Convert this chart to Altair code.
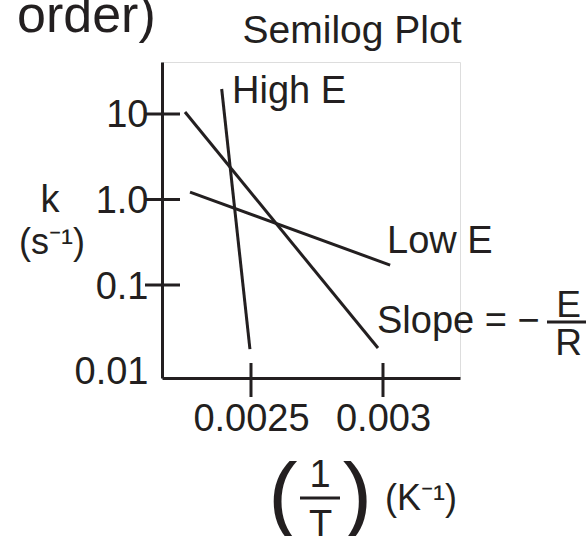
import altair as alt
import pandas as pd

# Rate constant k against reciprocal temperature for three reactions
line_names = ["High E", "Middle E", "Low E"]
inv_t_start = [0.002389, 0.00225, 0.002269]
inv_t_end = [0.002496, 0.002981, 0.003027]
k_start = [19.6, 10.55, 1.22]
k_end = [0.0178, 0.0183, 0.171]

# Axis ticks and their printed labels
y_tick_values = [10, 1, 0.1, 0.01]
y_tick_labels = ["10", "1.0", "0.1", "0.01"]
x_tick_values = [0.0025, 0.003]
x_tick_labels = ["0.0025", "0.003"]

FONT = "Liberation Sans"
INK = "#231f20"
W, H = 298, 316

lines = pd.DataFrame({
    "name": line_names,
    "x0": inv_t_start, "x1": inv_t_end,
    "k0": k_start, "k1": k_end,
})
yt = pd.DataFrame({"v": y_tick_values[:3]})
xt = pd.DataFrame({"v": x_tick_values})

x_scale = alt.Scale(domain=[0.0021629, 0.0032917], nice=False, zero=False)
y_scale = alt.Scale(type="log", domain=[0.008173, 40.55], nice=False)


def label_map(values, labels):
    pairs = ",".join(f"'{v}':'{l}'" for v, l in zip(values, labels))
    return "{" + pairs + "}[datum.value]"


x_axis = alt.Axis(
    values=x_tick_values, labelExpr=label_map(x_tick_values, x_tick_labels),
    ticks=False, tickSize=0, grid=False, title=None,
    domainColor=INK, domainWidth=3,
    labelFont=FONT, labelFontSize=38, labelColor=INK,
    labelBaseline="alphabetic", labelPadding=52, labelAngle=0,
)
y_axis = alt.Axis(
    values=y_tick_values, labelExpr=label_map(y_tick_values, y_tick_labels),
    ticks=False, tickSize=0, grid=False, title=None,
    domainColor=INK, domainWidth=3,
    labelFont=FONT, labelFontSize=38, labelColor=INK,
    labelBaseline="alphabetic", labelOffset=13, labelPadding=14,
)

data_lines = alt.Chart(lines).mark_rule(color=INK, strokeWidth=3).encode(
    x=alt.X("x0:Q", scale=x_scale, axis=x_axis),
    x2="x1:Q",
    y=alt.Y("k0:Q", scale=y_scale, axis=y_axis),
    y2="k1:Q",
)

# Tick marks that cross the axis lines
y_ticks = alt.Chart(yt).mark_rule(color=INK, strokeWidth=3).encode(
    y=alt.Y("v:Q", scale=y_scale, axis=y_axis),
    x=alt.value(-17), x2=alt.value(18),
)
x_ticks = alt.Chart(xt).mark_rule(color=INK, strokeWidth=3).encode(
    x=alt.X("v:Q", scale=x_scale, axis=x_axis),
    y=alt.value(H - 15), y2=alt.value(H + 19),
)


def text(t, x, y, size=38, align="left"):
    return alt.Chart(pd.DataFrame({"t": [t]})).mark_text(
        font=FONT, fontSize=size, color=INK, align=align, baseline="alphabetic"
    ).encode(x=alt.value(x), y=alt.value(y), text="t:N")


def bar(x, x2, y):
    return alt.Chart(pd.DataFrame({"t": [0]})).mark_rule(
        color=INK, strokeWidth=3
    ).encode(x=alt.value(x), x2=alt.value(x2), y=alt.value(y))


annotations = [
    text("order)", -145, -30, size=52),
    text("Semilog Plot", 190, -19, size=39, align="center"),
    text("High E", 70, 41),
    text("Low E", 225, 191),
    text("Slope = \u2212", 215, 271),
    text("E", 406.5, 255, size=37, align="center"),
    bar(385, 424, 260),
    text("R", 406.5, 293, size=37, align="center"),
    text("k", -112, 150, align="center"),
    text("(s\u207b\u00b9)", -110, 192, size=36, align="center"),
    # x axis title: (1/T) (K^-1)
    text("(", 121, 461.5, size=88, align="center"),
    text(")", 195.5, 461.5, size=88, align="center"),
    text("1", 158, 425, align="center"),
    bar(138, 178, 436),
    text("T", 158.5, 475, align="center"),
    text("(K\u207b\u00b9)", 223, 448, size=36),
]

chart = alt.layer(data_lines, y_ticks, x_ticks, *annotations).properties(
    width=W, height=H,
    autosize=alt.AutoSizeParams(type="none"),
    padding={"left": 162, "top": 62, "right": 126, "bottom": 158},
).configure_view(stroke=None).configure(background="white")

chart.save("out.html", embed_options={"renderer": "svg", "actions": False})
